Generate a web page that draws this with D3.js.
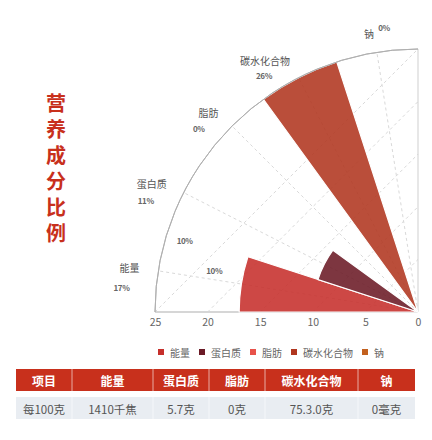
<!DOCTYPE html>
<html>
<head>
<meta charset="utf-8">
<script src="https://cdn.jsdelivr.net/npm/d3@7"></script>
<style>
  body { margin: 0; background: #fff; }
  text { font-family: "Noto Sans CJK SC", "Noto Sans", sans-serif; }
</style>
</head>
<body>
<div id="chart"></div>
<script>
// chart data
var title = "营养成分比例";
var categories = ["能量", "蛋白质", "脂肪", "碳水化合物", "钠"];
var values = [17, 10, 0, 26, 0];
var percentLabels = ["17%", "11%", "0%", "26%", "0%"];
var extraLabels = ["10%", "10%"];
var colors = ["#c62f2b", "#6b1a26", "#e8524a", "#b0361f", "#c2601e"];
var radialTicks = [0, 5, 10, 15, 20, 25];
var tableHeader = ["项目", "能量", "蛋白质", "脂肪", "碳水化合物", "钠"];
var tableRow = ["每100克", "1410千焦", "5.7克", "0克", "75.3.0克", "0毫克"];

var width = 432, height = 440;
var cx = 418, cy = 312, R = 263;

var svg = d3.select("#chart").append("svg")
	.attr("width", width)
	.attr("height", height);

// vertical title, one text element set top-to-bottom
svg.append("text")
	.attr("x", 56)
	.attr("y", 93)
	.style("writing-mode", "vertical-rl")
	.style("text-orientation", "upright")
	.attr("letter-spacing", 6)
	.attr("font-size", 20)
	.attr("font-weight", "bold")
	.attr("fill", "#c8301c")
	.text(title);

// scales: angle in d3.arc convention (0 = up, clockwise), quarter from left to up
var x = d3.scaleBand().domain(categories).range([-Math.PI / 2, 0]).padding(0);
var r = d3.scaleLinear().domain([0, 25]).range([0, R]).clamp(true);

var g = svg.append("g").attr("transform", "translate(" + cx + "," + cy + ")");

function polar(a, rad) {
	return [Math.sin(a) * rad, -Math.cos(a) * rad];
}

// grid: chords at each radial tick
g.append("g").selectAll("line")
	.data(radialTicks.filter(function(v) { return v > 0; }))
	.enter().append("line")
	.attr("x1", function(d) { return -r(d); })
	.attr("y1", 0)
	.attr("x2", 0)
	.attr("y2", function(d) { return -r(d); })
	.attr("stroke", "#d9d9d9")
	.attr("stroke-dasharray", "3,3");

// grid: spokes at category centres
g.append("g").selectAll("line")
	.data(categories)
	.enter().append("line")
	.attr("x1", 0).attr("y1", 0)
	.attr("x2", function(d) { return polar(x(d) + x.bandwidth() / 2, R)[0]; })
	.attr("y2", function(d) { return polar(x(d) + x.bandwidth() / 2, R)[1]; })
	.attr("stroke", "#d9d9d9")
	.attr("stroke-dasharray", "3,3");

// right edge and bottom axis line
g.append("line")
	.attr("x1", 0).attr("y1", 0).attr("x2", 0).attr("y2", -R)
	.attr("stroke", "#cfcfcf");
g.append("line")
	.attr("x1", -R).attr("y1", 0).attr("x2", 0).attr("y2", 0)
	.attr("stroke", "#d6d6d6")
	.attr("stroke-width", 2);

// bars
var arc = d3.arc()
	.innerRadius(0)
	.outerRadius(function(d) { return r(d.value); })
	.startAngle(function(d) { return x(d.cat); })
	.endAngle(function(d) { return x(d.cat) + x.bandwidth(); });

var barData = categories.map(function(c, i) { return {cat: c, value: values[i], color: colors[i]}; });

g.append("g").selectAll("path")
	.data(barData)
	.enter().append("path")
	.attr("d", arc)
	.attr("fill", function(d) { return d.color; })
	.attr("fill-opacity", 0.88)
	.attr("stroke", "#fff")
	.attr("stroke-width", 1.2);

// outer arc
g.append("path")
	.attr("d", d3.arc()({innerRadius: R, outerRadius: R, startAngle: -Math.PI / 2, endAngle: 0}))
	.attr("fill", "none")
	.attr("stroke", "#b0b0b0")
	.attr("stroke-width", 1);

// radial axis labels along the bottom
var xr = d3.scaleLinear().domain([0, 25]).range([cx, cx - R]);
var axis = svg.append("g")
	.attr("transform", "translate(0," + cy + ")")
	.call(d3.axisBottom(xr).tickValues(radialTicks).tickSize(0).tickPadding(7));
axis.select(".domain").remove();
axis.selectAll("text")
	.attr("font-size", 10.5)
	.attr("font-family", "'Noto Sans CJK SC', sans-serif")
	.attr("fill", "#666");

// category labels, right end sits on the spoke
var labelR = 282;
var catPos = categories.map(function(c) { return polar(x(c) + x.bandwidth() / 2, labelR); });
g.append("g").selectAll("text")
	.data(categories)
	.enter().append("text")
	.attr("x", function(d, i) { return catPos[i][0]; })
	.attr("y", function(d, i) { return catPos[i][1]; })
	.attr("text-anchor", "end")
	.attr("dominant-baseline", "central")
	.attr("font-size", 10)
	.attr("fill", "#555")
	.text(function(d) { return d; });

// percentage labels, nudged from the category label
var pctShift = [[-10, 20], [-13, 17], [-14, 16], [-18, 15], [16, -6]];
g.append("g").selectAll("text")
	.data(percentLabels)
	.enter().append("text")
	.attr("x", function(d, i) { return catPos[i][0] + pctShift[i][0]; })
	.attr("y", function(d, i) { return catPos[i][1] + pctShift[i][1]; })
	.attr("text-anchor", "end")
	.attr("dominant-baseline", "central")
	.attr("font-size", 8)
	.attr("font-weight", "bold")
	.attr("letter-spacing", -0.4)
	.attr("fill", "#666")
	.text(function(d) { return d; });

// two stray labels inside the first band
var extraPos = [[163, 244], [168.4, 208]];
g.append("g").selectAll("text")
	.data(extraLabels)
	.enter().append("text")
	.attr("x", function(d, i) { return polar((90 - extraPos[i][0]) * Math.PI / 180, extraPos[i][1])[0]; })
	.attr("y", function(d, i) { return polar((90 - extraPos[i][0]) * Math.PI / 180, extraPos[i][1])[1]; })
	.attr("text-anchor", "middle")
	.attr("dominant-baseline", "central")
	.attr("font-size", 8)
	.attr("font-weight", "bold")
	.attr("letter-spacing", -0.4)
	.attr("fill", "#666")
	.text(function(d) { return d; });

// legend
var legend = svg.append("g").attr("transform", "translate(158,352)");
var lx = 0;
categories.forEach(function(c, i) {
	var item = legend.append("g").attr("transform", "translate(" + lx + ",0)");
	item.append("rect")
		.attr("x", 0).attr("y", -3)
		.attr("width", 6).attr("height", 6)
		.attr("fill", colors[i]);
	var t = item.append("text")
		.attr("x", 12)
		.attr("dominant-baseline", "central")
		.attr("font-size", 10)
		.attr("fill", "#666")
		.text(c);
	lx += 12 + t.node().getComputedTextLength() + 9;
});

// table
var cols = [16, 72, 153, 209, 265, 358, 415];
var table = svg.append("g");
table.append("rect")
	.attr("x", cols[0]).attr("y", 369)
	.attr("width", cols[6] - cols[0]).attr("height", 22)
	.attr("fill", "#c8301c");
table.append("rect")
	.attr("x", cols[0]).attr("y", 397)
	.attr("width", cols[6] - cols[0]).attr("height", 22)
	.attr("fill", "#e9edf2");
table.selectAll(".sep")
	.data(cols.slice(1, 6))
	.enter().append("line")
	.attr("class", "sep")
	.attr("x1", function(d) { return d; }).attr("x2", function(d) { return d; })
	.attr("y1", 369).attr("y2", 419)
	.attr("stroke", "#fff")
	.attr("stroke-opacity", 0.6);

table.selectAll(".th")
	.data(tableHeader)
	.enter().append("text")
	.attr("class", "th")
	.attr("x", function(d, i) { return (cols[i] + cols[i + 1]) / 2; })
	.attr("y", 380)
	.attr("text-anchor", "middle")
	.attr("dominant-baseline", "central")
	.attr("font-size", 12)
	.attr("font-weight", "bold")
	.attr("fill", "#fff")
	.text(function(d) { return d; });

table.selectAll(".td")
	.data(tableRow)
	.enter().append("text")
	.attr("class", "td")
	.attr("x", function(d, i) { return (cols[i] + cols[i + 1]) / 2; })
	.attr("y", 409)
	.attr("text-anchor", "middle")
	.attr("dominant-baseline", "central")
	.attr("font-size", 11.5)
	.attr("fill", "#555")
	.text(function(d) { return d; });
</script>
</body>
</html>
